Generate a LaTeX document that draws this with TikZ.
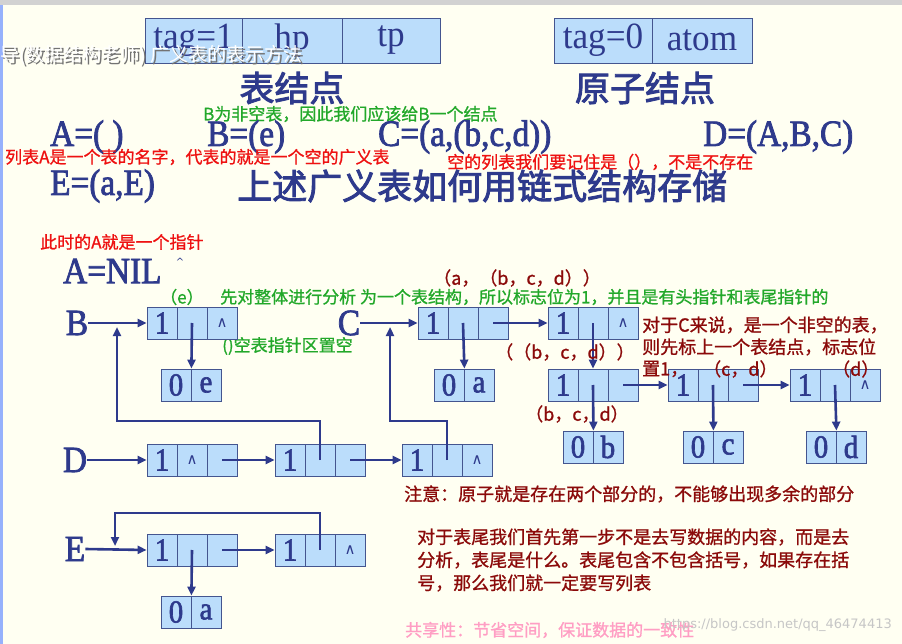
\documentclass[tikz,border=0pt]{standalone}
\usepackage{fontspec}
\usetikzlibrary{arrows.meta}
\newfontfamily\cjk{Noto Sans CJK SC}
\newfontfamily\cjkb[FakeBold=2.5]{Noto Sans CJK SC}
\newfontfamily\cjkm[FakeBold=1]{Noto Sans CJK SC}
\newfontfamily\cond[FakeStretch=0.9,FakeBold=2]{Liberation Serif}
\newfontfamily\condh[FakeStretch=0.95]{Liberation Serif}
\newfontfamily\dvs{DejaVu Sans}
\definecolor{bg}{HTML}{FFFFF2}
\definecolor{tb}{HTML}{2E3A8C}
\definecolor{bd}{HTML}{44558F}
\definecolor{cf}{HTML}{BBDDFB}
\definecolor{gr}{HTML}{22A82A}
\definecolor{rd}{HTML}{EE1111}
\definecolor{dr}{HTML}{8B0A0A}
\definecolor{pk}{HTML}{FF9EC4}
\tikzset{
 cell/.style={draw=bd, fill=cf, line width=0.8pt, minimum width=30pt, minimum height=32pt, inner sep=0pt, text=tb, font=\cond\fontsize{32}{32}\selectfont},
 hd/.style={draw=bd, fill=cf, line width=0.8pt, minimum height=45pt, inner sep=0pt, text=tb, font=\condh\fontsize{37}{37}\selectfont},
 nl/.style={cell, font=\dvs\fontsize{15}{15}\selectfont},
 ar/.style={-{Triangle[length=9pt,width=8pt]}, line width=2.6pt, draw=tb},
 big/.style={text=tb, font=\cond\fontsize{37}{37}\selectfont, inner sep=0pt},
 cj/.style={font=\cjkm\fontsize{17}{17}\selectfont, inner sep=0pt},
 cd/.style={font=\cjkm\fontsize{18}{18}\selectfont, inner sep=0pt, text=dr},
 tt/.style={text=tb, font=\cjkb\fontsize{35}{35}\selectfont, inner sep=0pt},
}
\begin{document}
\begin{tikzpicture}[x=1pt,y=-1pt]
\useasboundingbox (0,0) rectangle (902,644);
\fill[bg] (0,0) rectangle (902,644);
\fill[gray!35] (0,0) rectangle (902,5);
\fill[cf!80!blue] (0,5) rectangle (3,644);
% header boxes
\node[hd, minimum width=97pt] (h1) at (193.5,40.5) {tag=1};
\node[hd, minimum width=100pt] (h2) at (292,40.5) {hp};
\node[hd, minimum width=98pt] (h3) at (391,40.5) {tp};
\node[hd, minimum width=98pt] (a1) at (603,40.5) {tag=0};
\node[hd, minimum width=100pt] (a2) at (702,40.5) {atom};
\node[anchor=west, text=black!55, font=\cjk\fontsize{19}{19}\selectfont, inner sep=0pt] (ovs) at (2,57) {导(数据结构老师) 广义表的表示方法};
\node[anchor=west, text=white, font=\cjk\fontsize{19}{19}\selectfont, inner sep=0pt] (ov) at (0,55) {导(数据结构老师) 广义表的表示方法};
\node[tt] (t1) at (292,88) {表结点};
\node[tt] (t2) at (645,88) {原子结点};
\node[cj, text=gr, anchor=west] (g1) at (203,114) {B为非空表，因此我们应该给B一个结点};
\node[big, anchor=west] (la) at (50,137) {A=( )};
\node[big, anchor=west] (lb) at (207,137) {B=(e)};
\node[big, anchor=west] (lc) at (378,137) {C=(a,(b,c,d))};
\node[big, anchor=west] (ld) at (703,137) {D=(A,B,C)};
\node[cj, text=rd, anchor=west] (r1) at (5,157) {列表A是一个表的名字，代表的就是一个空的广义表};
\node[cj, text=rd, anchor=west] (r2) at (447,162) {空的列表我们要记住是（），不是不存在};
\node[big, anchor=west] (le) at (50,186) {E=(a,E)};
\node[tt, anchor=west] (t3) at (237,186) {上述广义表如何用链式结构存储};
\node[cj, text=rd, anchor=west] (r3) at (40,242) {此时的A就是一个指针};
\node[big, anchor=west] (nil) at (63,271) {A=NIL};
\node[text=tb, font=\dvs\fontsize{10}{10}\selectfont] (caret) at (180,262) {\^{}};
\node[cd, anchor=west] (p1) at (433,278) {（a，（b，c，d））};
\node[cj, text=gr, anchor=west] (g2) at (160,297) {（e）};
\node[cj, text=gr, anchor=west] (g3) at (220,297) {先对整体进行分析 为一个表结构，所以标志位为1，并且是有头指针和表尾指针的};
\node[cj, text=gr, anchor=west] (g4) at (222,346) {()空表指针区置空};
% B
\node[big] (B) at (77,323) {B};
\node[cell] (b1a) at (162,323) {1};
\node[cell] (b1b) at (192,323) {};
\node[nl] (b1c) at (222,323) {∧};
\node[cell] (bea) at (176,385) {0};
\node[cell] (beb) at (206,385) {e};
\draw[ar] (B.east) -- (b1a.west);
\draw[ar] (b1b.center) -- (bea.north east);
% C
\node[big] (C) at (349,323) {C};
\node[cell] (c1a) at (433,323) {1};
\node[cell] (c1b) at (463,323) {};
\node[cell] (c1c) at (493,323) {};
\node[cell] (caa) at (449,385) {0};
\node[cell] (cab) at (479,385) {a};
\node[cell] (c2a) at (563,323) {1};
\node[cell] (c2b) at (593,323) {};
\node[nl] (c2c) at (623,323) {∧};
\node[cell] (c3a) at (563,385) {1};
\node[cell] (c3b) at (593,385) {};
\node[cell] (c3c) at (623,385) {};
\node[cell] (c4a) at (683,385) {1};
\node[cell] (c4b) at (713,385) {};
\node[cell] (c4c) at (743,385) {};
\node[cell] (c5a) at (805,385) {1};
\node[cell] (c5b) at (835,385) {};
\node[nl] (c5c) at (865,385) {∧};
\node[cell] (xba) at (578,447) {0};
\node[cell] (xbb) at (608,447) {b};
\node[cell] (xca) at (698,447) {0};
\node[cell] (xcb) at (728,447) {c};
\node[cell] (xda) at (821,447) {0};
\node[cell] (xdb) at (851,447) {d};
\draw[ar] (C.east) -- (c1a.west);
\draw[ar] (c1b.center) -- (caa.north east);
\draw[ar] (c1c.center) -- (c2a.west);
\draw[ar] (c2b.center) -- (c3b.north);
\draw[ar] (c3c.center) -- (c4a.west);
\draw[ar] (c4c.center) -- (c5a.west);
\draw[ar] (c3b.center) -- (xba.north east);
\draw[ar] (c4b.center) -- (xca.north east);
\draw[ar] (c5b.center) -- (xda.north east);
\node[cd, anchor=west] (p2) at (495,352) {（（b，c，d））};
\node[cd, anchor=west] (p3) at (525,414) {（b，c，d）};
\node[cd, anchor=west] (p4) at (703,369) {（c，d）};
\node[cd, anchor=west] (p5) at (832,369) {（d）};
\node[cd, anchor=west] (q1) at (642,325) {对于C来说，是一个非空的表，};
\node[cd, anchor=west] (q2) at (642,347) {则先标上一个表结点，标志位};
\node[cd, anchor=west] (q3) at (642,369) {置1，};
% D
\node[big] (D) at (75,460) {D};
\node[cell] (d1a) at (162,460) {1};
\node[nl] (d1b) at (192,460) {∧};
\node[cell] (d1c) at (222,460) {};
\node[cell] (d2a) at (290,460) {1};
\node[cell] (d2b) at (320,460) {};
\node[cell] (d2c) at (350,460) {};
\node[cell] (d3a) at (417,460) {1};
\node[cell] (d3b) at (447,460) {};
\node[nl] (d3c) at (477,460) {∧};
\draw[ar] (D.east) -- (d1a.west);
\draw[ar] (d1c.center) -- (d2a.west);
\draw[ar] (d2c.center) -- (d3a.west);
\coordinate (bin) at (117,327);
\coordinate (cin) at (390,327);
\draw[ar] (d2b.center) -- (d2b.center |- 0,421) -| (bin);
\draw[ar] (d3b.center) -- (d3b.center |- 0,421) -| (cin);
\node[cd, anchor=west] (n1) at (404,494) {注意：原子就是存在两个部分的，不能够出现多余的部分};
% E
\node[big] (E) at (75,549) {E};
\node[cell] (e1a) at (162,550) {1};
\node[cell] (e1b) at (192,550) {};
\node[cell] (e1c) at (222,550) {};
\node[cell] (e2a) at (290,550) {1};
\node[cell] (e2b) at (320,550) {};
\node[nl] (e2c) at (350,550) {∧};
\node[cell] (eaa) at (176,612) {0};
\node[cell] (eab) at (206,612) {a};
\draw[ar] (E.east) -- (e1a.west);
\draw[ar] (e1c.center) -- (e2a.west);
\draw[ar] (e1b.center) -- (eaa.north east);
\coordinate (ein) at (115,546);
\draw[ar] (e2b.center) -- (e2b.center |- 0,513) -| (ein);
\node[cd, anchor=west] (m1) at (417,537) {对于表尾我们首先第一步不是去写数据的内容，而是去};
\node[cd, anchor=west] (m2) at (417,560) {分析，表尾是什么。表尾包含不包含括号，如果存在括};
\node[cd, anchor=west] (m3) at (417,583) {号，那么我们就一定要写列表};
\node[cj, text=pk, anchor=west] (k1) at (405,630) {共享性：节省空间，保证数据的一致性};
\node[anchor=east, text=gray!45, font=\dvs\fontsize{13}{13}\selectfont, inner sep=0pt] (wm) at (892,625) {https://blog.csdn.net/qq\_46474413};
\end{tikzpicture}
\end{document}
